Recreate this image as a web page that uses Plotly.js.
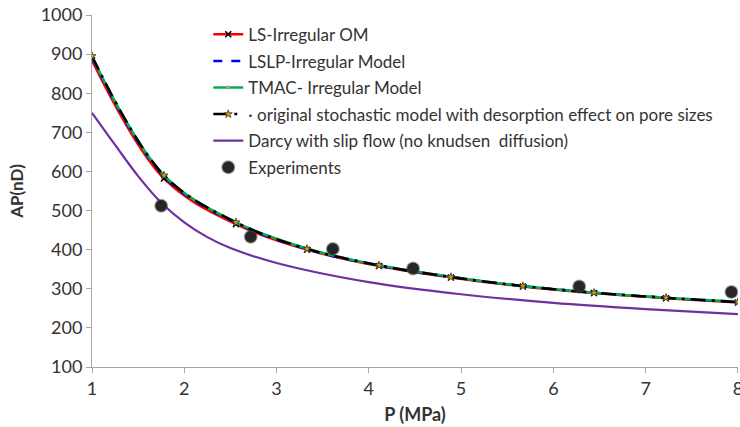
<!DOCTYPE html>
<html>
<head>
<meta charset="utf-8">
<script src="https://cdn.plot.ly/plotly-3.0.1.min.js"></script>
<style>html,body{margin:0;padding:0;background:#fff;}#chart{width:740px;height:427px;}</style>
</head>
<body>
<div id="chart"></div>
<script>
// Pressure values (MPa) at model nodes
const pModel = [1, 1.78, 2.56, 3.33, 4.11, 4.89, 5.67, 6.44, 7.22, 8];
const lsIrregularOM = [884, 582, 465, 400, 358, 329, 306, 289, 276, 265];
const lslpIrregular = [890, 587, 468, 401, 359, 330, 307, 290, 277, 266];
const tmacIrregular = [893, 590, 470, 403, 360, 331, 307, 290, 277, 267];
const originalStochastic = [895, 590, 470, 402, 360, 330, 307, 290, 277, 266];

// Darcy with slip flow
const pDarcy = [1, 1.25, 1.5, 1.75, 2, 2.25, 2.5, 3, 4, 5, 6, 7, 8];
const darcySlip = [750, 668, 588, 520, 470, 432, 404, 366, 317, 286, 264, 248, 235];

// Experiments
const pExp = [1.75, 2.72, 3.61, 4.48, 6.28, 7.93];
const apExp = [512, 433, 402, 352, 306, 292];

const xTicks = [1, 2, 3, 4, 5, 6, 7, 8];

const names = [
  'LS-Irregular OM',
  'LSLP-Irregular Model',
  'TMAC- Irregular Model',
  '\u00b7 original stochastic model with desorption effect on pore sizes',
  'Darcy with slip flow (no knudsen  diffusion)',
  'Experiments'
];

const traces = [
  {x: pModel, y: lsIrregularOM, name: names[0], mode: 'lines+markers', legendgroup: 'a',
   line: {color: '#ff0000', width: 2.5, shape: 'spline'},
   marker: {symbol: 'x-thin', size: 6, line: {color: '#000', width: 1.5}, color: '#000'}},
  {x: pModel, y: lslpIrregular, name: names[1], mode: 'lines', legendgroup: 'b',
   line: {color: '#0000ff', width: 2.5, dash: 'dash', shape: 'spline'}},
  {x: pModel, y: tmacIrregular, name: names[2], mode: 'lines+markers', legendgroup: 'c',
   line: {color: '#00b050', width: 2.5, shape: 'spline'},
   marker: {symbol: 'circle', size: 4, color: '#a0a0a0'}},
  {x: pModel, y: originalStochastic, name: names[3], mode: 'lines+markers', legendgroup: 'd',
   line: {color: '#000000', width: 2.5, dash: 'longdashdot', shape: 'spline'},
   marker: {symbol: 'star', size: 6, color: '#e0a000', line: {color: '#333', width: 0.8}}},
  {x: pDarcy, y: darcySlip, name: names[4], mode: 'lines', legendgroup: 'e',
   line: {color: '#7030a0', width: 2.2, shape: 'spline'}},
  {x: pExp, y: apExp, name: names[5], mode: 'markers', legendgroup: 'f',
   marker: {symbol: 'circle', size: 12, color: '#262626', line: {color: 'rgba(60,60,60,0.45)', width: 2}}}
];

const layout = {
  width: 740, height: 427,
  margin: {l: 92, r: 2, t: 15, b: 60},
  paper_bgcolor: '#fff', plot_bgcolor: '#fff',
  font: {family: 'Lato, "DejaVu Sans", sans-serif', size: 17, color: '#333'},
  showlegend: true,
  legend: {x: 0.18, y: 0.995, xanchor: 'left', yanchor: 'top', bgcolor: 'rgba(0,0,0,0)',
           font: {size: 17, color: '#333'}, tracegroupgap: 1.5, itemwidth: 30},
  xaxis: {range: [1, 8.001], tickvals: xTicks, ticktext: xTicks.map(String), showgrid: false, zeroline: false,
          showline: true, linecolor: '#a6a6a6', linewidth: 1, ticks: 'outside', ticklen: 5,
          tickcolor: '#a6a6a6', tickfont: {size: 18, color: '#333'}, ticklabeloverflow: 'allow',
          automargin: false,
          title: {text: '<b>P (MPa)</b>', font: {size: 18, color: '#333'}, standoff: 10}},
  yaxis: {range: [100, 1000], dtick: 100, showgrid: false, zeroline: false,
          showline: true, linecolor: '#a6a6a6', linewidth: 1, ticks: 'outside', ticklen: 5,
          tickcolor: '#a6a6a6', tickfont: {size: 18, color: '#333'}, automargin: false,
          title: {text: '<b>AP(nD)</b>', font: {size: 17, color: '#333'}, standoff: 12}}
};

Plotly.newPlot('chart', traces, layout, {displayModeBar: false, staticPlot: true});
</script>
</body>
</html>
